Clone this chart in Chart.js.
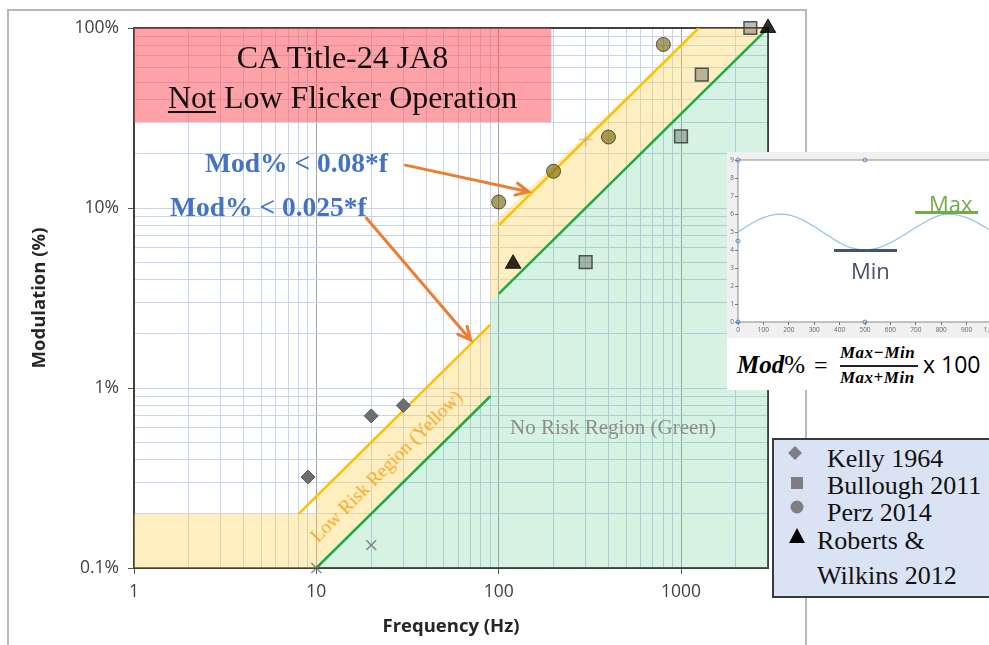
<!DOCTYPE html>
<html>
<head>
<meta charset="utf-8">
<script src="https://cdn.jsdelivr.net/npm/chart.js@4.4.1/dist/chart.umd.min.js"></script>
<style>
html, body { margin: 0; padding: 0; background: #fff; width: 989px; height: 645px; overflow: hidden; }
#frame { position: absolute; left: 7px; top: 9px; width: 800px; height: 700px; border: 2px solid #b8b8b8; box-sizing: border-box; }
#main { position: absolute; left: 0; top: 0; }
.t { position: absolute; white-space: nowrap; line-height: 1; }
.serif { font-family: "Liberation Serif", "DejaVu Serif", serif; }
.sans { font-family: "Open Sans", "Noto Sans", sans-serif; }
#inset { position: absolute; left: 727px; top: 152px; width: 280px; height: 186px; background: #f0f0f0; }
#formula { position: absolute; left: 727px; top: 338px; width: 280px; height: 52px; background: #fff; }
#legend { position: absolute; left: 772px; top: 438px; width: 240px; height: 160px; background: #dae3f3; border: 2px solid #3a3a3a; box-sizing: border-box; }
.bar { position: absolute; height: 3px; }
</style>
</head>
<body>
<div id="frame"></div>
<canvas id="main" width="989" height="645"></canvas>

<!-- red box text -->
<div class="t serif" style="left:134px;width:417px;text-align:center;top:41px;font-size:32px;color:#111;">CA Title-24 JA8</div>
<div class="t serif" style="left:134px;width:417px;text-align:center;top:81px;font-size:32px;color:#111;"><u style="text-decoration-thickness:1.5px;text-underline-offset:3px;">Not</u> Low Flicker Operation</div>

<!-- threshold annotations -->
<div class="t serif" style="left:205px;top:149px;font-size:27.5px;font-weight:bold;color:#4472c4;">Mod% &lt; 0.08*f</div>
<div class="t serif" style="left:170px;top:193px;font-size:27.5px;font-weight:bold;color:#4472c4;">Mod% &lt; 0.025*f</div>
<div class="t serif" style="left:510px;top:417px;font-size:21px;color:#8c8c8c;">No Risk Region (Green)</div>
<div class="t serif" style="left:386px;top:466px;font-size:19px;color:#f5a623;transform:translate(-50%,-50%) rotate(-45deg);">Low Risk Region (Yellow)</div>

<!-- inset waveform -->
<div id="inset"><canvas id="wave" width="280" height="186"></canvas></div>
<div class="bar" style="left:915px;top:211px;width:63px;background:#70ad47;"></div>
<div class="t sans" style="left:929px;top:192px;font-size:22px;color:#70ad47;">Max</div>
<div class="bar" style="left:834px;top:249px;width:63px;background:#44546a;"></div>
<div class="t sans" style="left:851px;top:259px;font-size:22px;color:#44546a;">Min</div>

<div id="formula"></div>
<div class="t serif" style="left:737px;top:352px;font-size:25px;"><b><i>Mod</i></b>%</div>
<div class="t serif" style="left:814px;top:353px;font-size:24px;">=</div>
<div class="t serif" style="left:840px;top:344px;font-size:17px;font-weight:bold;font-style:italic;letter-spacing:0.5px;">Max−Min</div>
<div class="bar" style="left:840px;top:365px;width:78px;height:1.5px;background:#222;"></div>
<div class="t serif" style="left:840px;top:369px;font-size:17px;font-weight:bold;font-style:italic;letter-spacing:0.5px;">Max+Min</div>
<div class="t sans" style="left:923px;top:353px;font-size:23px;">x 100</div>

<!-- legend -->
<div id="legend"></div>
<svg style="position:absolute;left:0;top:0;" width="989" height="645">
  <polygon points="795,446 802,453 795,460 788,453" fill="#7f7f7f"/>
  <rect x="791" y="477" width="12" height="12" fill="#7f7f7f"/>
  <circle cx="797" cy="507" r="6.5" fill="#7f7f7f"/>
  <polygon points="797,528 805,543 789,543" fill="#000"/>
</svg>
<div class="t serif" style="left:827px;top:446px;font-size:26px;color:#111;">Kelly 1964</div>
<div class="t serif" style="left:827px;top:473px;font-size:26px;color:#111;">Bullough 2011</div>
<div class="t serif" style="left:827px;top:500px;font-size:26px;color:#111;">Perz 2014</div>
<div class="t serif" style="left:817px;top:528px;font-size:26px;color:#111;">Roberts &amp;</div>
<div class="t serif" style="left:817px;top:563px;font-size:26px;color:#111;">Wilkins 2012</div>

<script>
// Axis ticks
const freqTickValues = [1, 10, 100, 1000];
const freqTickLabels = ['1', '10', '100', '1000'];
const modTickValues = [0.1, 1, 10, 100];
const modTickLabels = ['0.1%', '1%', '10%', '100%'];

// Region edges (frequency Hz, modulation %)
const redFreq = [1, 195];
const redMod = [30, 30];
const yellowEdgeFreq = [1, 10, 10, 90, 90, 1250, 3000];
const yellowEdgeMod = [0.2, 0.2, 0.25, 2.25, 8, 100, 100];
const greenEdgeFreq = [1, 10, 10, 90, 90, 1250, 3000];
const greenEdgeMod = [0.1, 0.1, 0.1, 0.9, 3.0, 41.7, 100];

// Threshold lines
const lowRiskFreq = [8, 90, 95, 100, 1250];
const lowRiskMod = [0.2, 2.25, null, 8, 100];
const noRiskFreq = [10, 90, 95, 100, 3000];
const noRiskMod = [0.1, 0.9, null, 3.33, 100];

// Studies
const crossFreq = [10, 20, 300];
const crossMod = [0.1, 0.134, 24];
const kellyFreq = [9, 20, 30];
const kellyMod = [0.32, 0.70, 0.80];
const bulloughFreq = [300, 1000, 1300, 2400];
const bulloughMod = [5.0, 25, 55, 100];
const perzFreq = [100, 200, 400, 800];
const perzMod = [10.8, 16, 24.8, 81];
const robertsFreq = [120, 3000];
const robertsMod = [4.9, 100];

// Arrows (data coords)
const arrowFrom = [[30.8, 17.3], [18.8, 8.8]];
const arrowTo = [[146, 12.3], [70.2, 1.85]];

// Inset waveform
const waveX = [0, 50, 100, 150, 200, 250, 300, 350, 400, 450, 500, 550, 600, 650, 700, 750, 800, 850, 900, 950, 1000];
const waveY = [5.0, 5.45, 5.8, 5.98, 5.95, 5.7, 5.3, 4.85, 4.4, 4.1, 4.0, 4.1, 4.4, 4.8, 5.25, 5.65, 5.95, 5.98, 5.8, 5.45, 5.05];
const tipX = [0, 500, 0, 500, 0];
const tipY = [9, 9, 0, 0, 4.5];

const pts = (xs, ys) => xs.map((x, i) => ({ x: x, y: ys[i] }));

function logGrid(lo, hi) {
    const out = [];
    for (let d = lo; d <= hi; d *= 10) {
        for (let m = 1; m <= 9; m++) {
            const v = Number((d * m).toPrecision(2));
            if (v <= hi) out.push({ value: v });
        }
    }
    return out;
}

const frameBorder = {
    id: 'frameBorder',
    beforeDatasetsDraw(chart) {
        const a = chart.chartArea, ctx = chart.ctx;
        ctx.save();
        ctx.strokeStyle = '#404040';
        ctx.lineWidth = 2;
        ctx.strokeRect(a.left, a.top, a.right - a.left, a.bottom - a.top);
        ctx.restore();
    }
};

const arrows = {
    id: 'arrows',
    afterDraw(chart) {
        const ctx = chart.ctx, xs = chart.scales.x, ys = chart.scales.y;
        ctx.save();
        ctx.strokeStyle = '#ed7d31';
        ctx.lineWidth = 3;
        ctx.lineCap = 'round';
        arrowFrom.forEach((f, i) => {
            const x0 = xs.getPixelForValue(f[0]), y0 = ys.getPixelForValue(f[1]);
            const x1 = xs.getPixelForValue(arrowTo[i][0]), y1 = ys.getPixelForValue(arrowTo[i][1]);
            const ang = Math.atan2(y1 - y0, x1 - x0);
            ctx.beginPath();
            ctx.moveTo(x0, y0);
            ctx.lineTo(x1, y1);
            ctx.moveTo(x1 - 14 * Math.cos(ang - 0.45), y1 - 14 * Math.sin(ang - 0.45));
            ctx.lineTo(x1, y1);
            ctx.lineTo(x1 - 14 * Math.cos(ang + 0.45), y1 - 14 * Math.sin(ang + 0.45));
            ctx.stroke();
        });
        ctx.restore();
    }
};

Chart.defaults.font.family = "'Open Sans', sans-serif";
Chart.defaults.animation = false;

new Chart(document.getElementById('main').getContext('2d'), {
    type: 'line',
    data: {
        datasets: [
            { data: pts(redFreq, redMod), fill: 'end', backgroundColor: 'rgba(255,70,80,0.5)', borderWidth: 0, pointRadius: 0, order: 10 },
            { data: pts(yellowEdgeFreq, yellowEdgeMod), fill: 2, backgroundColor: 'rgba(255,210,80,0.36)', borderWidth: 0, pointRadius: 0, order: 9 },
            { data: pts(greenEdgeFreq, greenEdgeMod), fill: 'start', backgroundColor: 'rgba(70,195,125,0.22)', borderWidth: 0, pointRadius: 0, order: 8 },
            { data: pts(lowRiskFreq, lowRiskMod), borderColor: '#ffc000', borderWidth: 2.5, pointRadius: 0, fill: false, order: 5 },
            { data: pts(noRiskFreq, noRiskMod), borderColor: '#1daa4b', borderWidth: 2.5, pointRadius: 0, fill: false, order: 5 },
            { data: pts(crossFreq, crossMod), showLine: false, pointStyle: ['crossRot', 'crossRot', 'cross'], pointRadius: 7,
              pointBorderColor: ['rgba(100,100,100,0.75)', 'rgba(100,100,100,0.75)', 'rgba(160,160,160,0.5)'], pointBorderWidth: 1.5, clip: false, order: 2 },
            { data: pts(kellyFreq, kellyMod), showLine: false, pointStyle: 'rectRot', pointRadius: 7,
              pointBackgroundColor: '#6e6e6e', pointBorderColor: '#5a5a5a', pointBorderWidth: 1, clip: false, order: 1 },
            { data: pts(bulloughFreq, bulloughMod), showLine: false, pointStyle: 'rect', pointRadius: 9,
              pointBackgroundColor: 'rgba(95,95,95,0.42)', pointBorderColor: 'rgba(55,60,55,0.85)', pointBorderWidth: 1.5, clip: false, order: 1 },
            { data: pts(perzFreq, perzMod), showLine: false, pointStyle: 'circle', pointRadius: 7,
              pointBackgroundColor: 'rgba(115,95,10,0.62)', pointBorderColor: 'rgba(70,60,20,0.85)', pointBorderWidth: 1, clip: false, order: 1 },
            { data: pts(robertsFreq, robertsMod), showLine: false, pointStyle: 'triangle', pointRadius: 9,
              pointBackgroundColor: 'rgba(10,5,0,0.85)', pointBorderColor: 'rgba(10,5,0,0.85)', pointBorderWidth: 1, clip: false, order: 1 }
        ]
    },
    options: {
        responsive: false,
        spanGaps: false,
        layout: { padding: { left: 0, top: 28, right: 221, bottom: 0 } },
        plugins: { legend: { display: false }, tooltip: { enabled: false } },
        scales: {
            x: {
                type: 'logarithmic', min: 1, max: 3000,
                afterBuildTicks: (s) => { s.ticks = logGrid(1, 3000); },
                afterFit: (s) => { s.height = 77; },
                border: { display: false },
                grid: {
                    color: (c) => c.tick && freqTickValues.slice(1).includes(c.tick.value) ? '#a3a3a3' : '#c6d4ef',
                    tickColor: (c) => c.tick && freqTickValues.includes(c.tick.value) ? '#595959' : 'rgba(0,0,0,0)',
                    tickLength: 6
                },
                ticks: {
                    autoSkip: false, maxRotation: 0, padding: 8, color: '#404040', font: { size: 17.5 },
                    callback: (v) => { const i = freqTickValues.indexOf(v); return i >= 0 ? freqTickLabels[i] : ''; }
                },
                title: { display: true, text: 'Frequency (Hz)', color: '#262626', font: { size: 18.5, weight: 'bold' }, padding: { top: 0, bottom: 7 } }
            },
            y: {
                type: 'logarithmic', min: 0.1, max: 100,
                afterBuildTicks: (s) => { s.ticks = logGrid(0.1, 100); },
                afterFit: (s) => { s.width = 134; },
                border: { display: false },
                grid: {
                    color: '#c6d4ef',
                    tickColor: (c) => c.tick && modTickValues.includes(c.tick.value) ? '#595959' : 'rgba(0,0,0,0)',
                    tickLength: 6
                },
                ticks: {
                    autoSkip: false, padding: 9, color: '#404040', font: { size: 17.5 },
                    callback: (v) => { const i = modTickValues.indexOf(v); return i >= 0 ? modTickLabels[i] : ''; }
                },
                title: { display: true, text: 'Modulation (%)', color: '#262626', font: { size: 18.5, weight: 'bold' }, padding: { top: 29, bottom: 0 } }
            }
        }
    },
    plugins: [frameBorder, arrows]
});

// Inset: sinusoidal light output
const plotBg = {
    id: 'plotBg',
    beforeDraw(chart) {
        const a = chart.chartArea, ctx = chart.ctx;
        ctx.save();
        ctx.fillStyle = '#fff';
        ctx.fillRect(a.left, a.top, a.right - a.left, a.bottom - a.top);
        ctx.strokeStyle = '#8a8a8a';
        ctx.lineWidth = 1;
        ctx.strokeRect(a.left, a.top, a.right - a.left, a.bottom - a.top);
        ctx.restore();
    }
};

new Chart(document.getElementById('wave').getContext('2d'), {
    type: 'line',
    data: {
        datasets: [
            { data: pts(waveX, waveY), borderColor: '#8ec3e8', borderWidth: 1.2, pointRadius: 0, tension: 0.4, fill: false },
            { data: pts(tipX, tipY), showLine: false, pointStyle: 'circle', pointRadius: 2, pointBorderColor: '#4a90d0',
              pointBackgroundColor: 'rgba(0,0,0,0)', pointBorderWidth: 1, clip: false }
        ]
    },
    options: {
        responsive: false,
        layout: { padding: { left: 0, top: 8, right: 15, bottom: 0 } },
        plugins: { legend: { display: false }, tooltip: { enabled: false } },
        scales: {
            x: {
                type: 'linear', min: 0, max: 1000,
                afterFit: (s) => { s.height = 16; },
                border: { display: false },
                grid: { drawOnChartArea: false, tickLength: 3, color: '#777' },
                ticks: { stepSize: 100, maxRotation: 0, autoSkip: false, padding: 1, color: '#666', font: { size: 6.5 } }
            },
            y: {
                type: 'linear', min: 0, max: 9,
                afterFit: (s) => { s.width = 11; },
                border: { display: false },
                grid: { drawOnChartArea: false, tickLength: 3, color: '#777' },
                ticks: { stepSize: 1, padding: 1, color: '#666', font: { size: 6.5 } }
            }
        }
    },
    plugins: [plotBg]
});
</script>
</body>
</html>
